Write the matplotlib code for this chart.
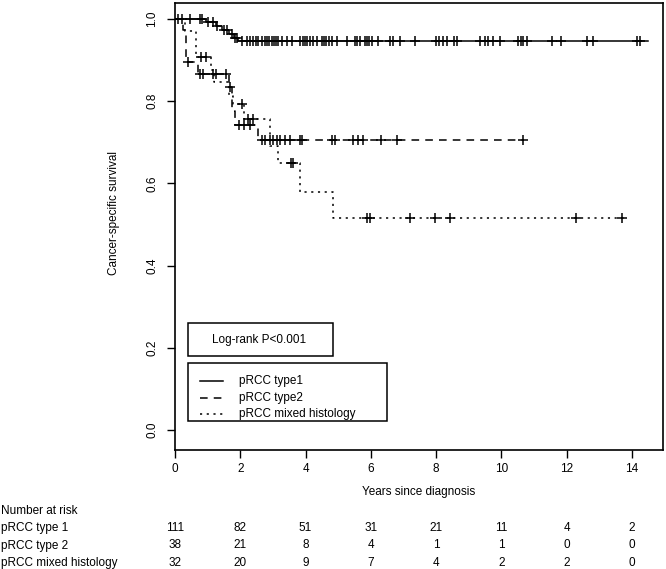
import numpy as np
import matplotlib
matplotlib.use("Agg")
import matplotlib.pyplot as plt
import matplotlib.transforms as mtransforms
from matplotlib.lines import Line2D
from matplotlib.patches import Rectangle

plt.rcParams['font.family'] = ['Liberation Sans', 'DejaVu Sans']
FS = 8.5
plt.rcParams['font.size'] = FS

# Kaplan-Meier step data (time in years, survival)
t1_times = [0, 0.95, 1.25, 1.45, 1.65, 1.8, 1.92]
t1_surv = [1.0, 0.991, 0.981, 0.972, 0.963, 0.954, 0.945]
t1_end = 14.49
t1_cens = [0.1, 0.2, 0.46, 0.77, 0.83, 1.0, 1.16, 1.3, 1.5, 1.6, 1.75, 1.84, 1.9,
           2.05, 2.2, 2.3, 2.4, 2.48, 2.55, 2.66, 2.75, 2.83, 2.89, 2.96, 3.03,
           3.09, 3.16, 3.27, 3.42, 3.57, 3.83, 3.91, 3.98, 4.05, 4.13, 4.22, 4.34,
           4.49, 4.56, 4.64, 4.72, 4.80, 4.97, 5.26, 5.51, 5.58, 5.67, 5.82, 5.89,
           5.95, 6.02, 6.23, 6.58, 6.67, 6.89, 7.35, 8.01, 8.09, 8.20, 8.32, 8.54,
           8.63, 9.34, 9.49, 9.60, 9.75, 9.97, 10.52, 10.59, 10.67, 10.77, 11.54,
           11.81, 12.61, 12.82, 14.16, 14.26]

t2_times = [0, 0.25, 0.35, 0.7, 1.65, 1.75, 1.85, 2.55]
t2_surv = [1.0, 0.973, 0.895, 0.865, 0.835, 0.775, 0.742, 0.706]
t2_end = 10.67
t2_cens = [0.39, 0.78, 0.85, 1.15, 1.25, 1.55, 1.7, 1.95, 2.1, 2.3, 2.66, 2.76,
           2.91, 3.01, 3.13, 3.22, 3.37, 3.52, 3.83, 3.88, 4.82, 4.9, 5.45, 5.6,
           5.75, 6.3, 6.8, 10.67]

t3_times = [0, 0.3, 0.65, 1.1, 1.2, 1.65, 1.78, 2.1, 2.9, 3.15, 3.83, 4.84]
t3_surv = [1.0, 0.969, 0.906, 0.875, 0.845, 0.812, 0.793, 0.755, 0.69, 0.65, 0.58, 0.516]
t3_end = 13.84
t3_cens = [0.8, 0.95, 2.05, 2.25, 2.4, 3.55, 3.62, 5.87, 5.97, 7.2, 7.96, 8.42, 12.3, 13.68]

groups = ['pRCC type1', 'pRCC type2', 'pRCC mixed histology']
risk_labels = ['pRCC type 1', 'pRCC type 2', 'pRCC mixed histology']
risk_times = [0, 2, 4, 6, 8, 10, 12, 14]
risk_type1 = [111, 82, 51, 31, 21, 11, 4, 2]
risk_type2 = [38, 21, 8, 4, 1, 1, 0, 0]
risk_mixed = [32, 20, 9, 7, 4, 2, 2, 0]

styles = ['-', (0, (5, 4)), (0, (1.4, 3.0))]

fig = plt.figure(figsize=(6.66, 5.69), dpi=100)
ax = fig.add_axes([175 / 666, 1 - 450 / 569, 488 / 666, 447 / 569])


def step_at(times, surv, t):
    idx = np.searchsorted(times, t, side='right') - 1
    return np.asarray(surv)[idx]


curves = [(t1_times, t1_surv, t1_end, t1_cens),
          (t2_times, t2_surv, t2_end, t2_cens),
          (t3_times, t3_surv, t3_end, t3_cens)]

for (times, surv, end, cens), ls in zip(curves, styles):
    xs = list(times) + [end]
    ys = list(surv) + [surv[-1]]
    ax.step(xs, ys, where='post', color='black', linewidth=1.1, linestyle=ls)
    ax.plot(cens, step_at(times, surv, cens), linestyle='none', marker='+',
            markersize=7.5, markeredgewidth=1.1, color='black')

ax.set_xlim(0, 14.95)
ax.set_ylim(-0.048, 1.038)
ax.set_xticks(range(0, 15, 2))
ax.set_yticks([0.0, 0.2, 0.4, 0.6, 0.8, 1.0])
ax.set_yticklabels(['0.0', '0.2', '0.4', '0.6', '0.8', '1.0'])
ax.tick_params(axis='both', direction='out', length=6, width=1.0, labelsize=FS)
ax.tick_params(axis='x', pad=3)
ax.tick_params(axis='y', pad=6, labelrotation=90)
for lbl in ax.get_yticklabels():
    lbl.set_va('center')
for sp in ax.spines.values():
    sp.set_linewidth(1.2)

ax.set_ylabel('Cancer-specific survival', fontsize=FS)
ax.yaxis.set_label_coords(-0.112, 0.53)
ax.set_xlabel('Years since diagnosis', fontsize=FS, labelpad=8)

# Log-rank box and legend (figure pixel coordinates)
def fx(px):
    return px / 666


def fy(py):
    return 1 - py / 569


fig.patches.append(Rectangle((fx(188), fy(356)), fx(333) - fx(188), fy(323) - fy(356),
                             transform=fig.transFigure, fill=False, edgecolor='black',
                             linewidth=1.1))
fig.text(fx(212), fy(340), 'Log-rank P<0.001', ha='left', va='center', fontsize=FS)

fig.patches.append(Rectangle((fx(188), fy(421)), fx(387) - fx(188), fy(363) - fy(421),
                             transform=fig.transFigure, fill=False, edgecolor='black',
                             linewidth=1.1))
for i, (name, ls) in enumerate(zip(groups, styles)):
    yy = fy(381 + 16.5 * i)
    fig.lines.append(Line2D([fx(200), fx(223)], [yy, yy], transform=fig.transFigure,
                            color='black', linewidth=1.1, linestyle=ls))
    fig.text(fx(239), yy, name, ha='left', va='center', fontsize=FS)

# Number at risk table
trans = mtransforms.blended_transform_factory(ax.transData, fig.transFigure)
fig.text(fx(1), fy(511), 'Number at risk', ha='left', va='center', fontsize=FS)
for i, (lab, counts) in enumerate(zip(risk_labels, [risk_type1, risk_type2, risk_mixed])):
    yy = fy(528 + 17.5 * i)
    fig.text(fx(1), yy, lab, ha='left', va='center', fontsize=FS)
    for t, n in zip(risk_times, counts):
        ax.text(t, yy, str(n), transform=trans, ha='center', va='center', fontsize=FS,
                clip_on=False)

fig.savefig('out.png', dpi=100)
